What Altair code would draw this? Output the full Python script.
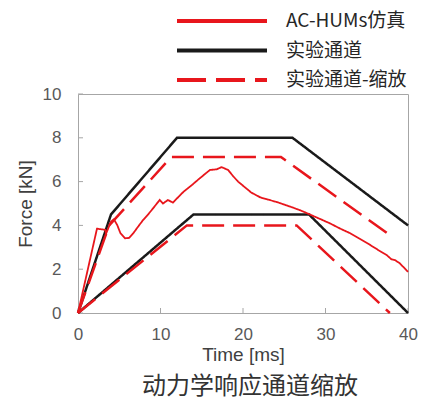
import altair as alt
import pandas as pd

# ---- data ----
series = ["AC-HUMs仿真", "实验通道", "实验通道-缩放"]

sim_t = [0, 2.3, 3.3, 3.4, 3.7, 4.0, 4.35, 4.75, 5.15, 5.7, 6.2, 6.7, 7.3, 7.9, 8.5, 9.1,
         9.9, 10.3, 10.9, 11.5, 12.2, 12.8, 13.8, 14.6, 15.4, 16.0, 16.8, 17.4, 18.2, 18.8,
         19.4, 20.2, 21.0, 22.1, 23.0, 24.0, 25.0, 26.0, 27.0, 28.1, 29.0, 30.5, 31.8, 33.0,
         34.2, 35.4, 36.5, 37.4, 38.0, 38.4, 39.0, 40.0]
sim_f = [0, 3.85, 3.8, 3.62, 3.9, 4.17, 4.28, 4.02, 3.64, 3.41, 3.43, 3.64, 3.95, 4.25, 4.5, 4.78,
         5.16, 5.0, 5.16, 5.04, 5.31, 5.54, 5.84, 6.1, 6.35, 6.53, 6.56, 6.66, 6.53, 6.25,
         6.0, 5.75, 5.5, 5.28, 5.18, 5.08, 4.95, 4.82, 4.68, 4.5, 4.35, 4.1, 3.85, 3.64,
         3.38, 3.11, 2.85, 2.65, 2.45, 2.42, 2.27, 1.88]

exp_up_t = [0, 4, 12, 26, 40]
exp_up_f = [0, 4.5, 8, 8, 4]
exp_lo_t = [0, 14, 28, 40]
exp_lo_f = [0, 4.5, 4.5, 0]

sc_up_t = [0, 3.78, 11.3, 24.6, 37.8]
sc_up_f = [0, 4.0, 7.12, 7.12, 3.56]
sc_lo_t = [0, 13.2, 26.5, 37.8]
sc_lo_f = [0, 4.0, 4.0, 0]

x_ticks = [0, 10, 20, 30, 40]
y_ticks = [0, 2, 4, 6, 8, 10]

# ---- styling ----
RED = "#e8161c"
BLACK = "#1a1a1a"
GRID = "#a6a6a6"
W, H = 330, 219
LATIN = "Liberation Sans"
CJK = "Noto Sans CJK SC"


def frame(ts, fs, name, line):
    return pd.DataFrame({"t": ts, "f": fs, "series": name, "line": line,
                         "i": list(range(len(ts)))})


df_exp = pd.concat([frame(exp_up_t, exp_up_f, series[1], "up"),
                    frame(exp_lo_t, exp_lo_f, series[1], "lo")])
df_sc = pd.concat([frame(sc_up_t, sc_up_f, series[2], "up"),
                   frame(sc_lo_t, sc_lo_f, series[2], "lo")])
df_sim = frame(sim_t, sim_f, series[0], "sim")

xs = alt.Scale(domain=[0, 40], nice=False, zero=False)
ys = alt.Scale(domain=[0, 10], nice=False, zero=False)
cscale = alt.Scale(domain=series, range=[RED, BLACK, RED])
dscale = alt.Scale(domain=series, range=[[1, 0], [1, 0], [22, 9]])

xaxis = alt.Axis(values=x_ticks, ticks=False, tickSize=0, domain=False, grid=False,
                 labelFlush=False, labelOverlap=False,
                 labelPadding=13, labelFontSize=17, labelColor="#595959", labelFont=LATIN,
                 title="Time [ms]", titleFontSize=19, titleFontWeight="normal",
                 titleColor="#404040", titleFont=LATIN, titlePadding=3)
yaxis = alt.Axis(values=y_ticks, ticks=False, tickSize=0, domain=False, grid=False,
                 labelFlush=False, labelOverlap=False,
                 labelPadding=17, labelFontSize=17, labelColor="#595959", labelFont=LATIN,
                 title="Force [kN]", titleFontSize=19, titleFontWeight="normal",
                 titleColor="#404040", titleFont=LATIN, titlePadding=7)


def line_layer(df, width):
    return alt.Chart(df).mark_line(strokeWidth=width).encode(
        x=alt.X("t:Q", scale=xs, axis=xaxis),
        y=alt.Y("f:Q", scale=ys, axis=yaxis),
        color=alt.Color("series:N", scale=cscale, legend=None),
        strokeDash=alt.StrokeDash("series:N", scale=dscale, legend=None),
        detail="line:N",
        order="i:Q",
    )


xt = alt.Chart(pd.DataFrame({"v": x_ticks})).mark_rule(color=GRID, strokeWidth=1).encode(
    x=alt.X("v:Q", scale=xs, axis=xaxis), y=alt.value(H), y2=alt.value(H - 5))
yt = alt.Chart(pd.DataFrame({"v": y_ticks})).mark_rule(color=GRID, strokeWidth=1).encode(
    y=alt.Y("v:Q", scale=ys, axis=yaxis), x=alt.value(0), x2=alt.value(5))

plot = alt.layer(xt, yt, line_layer(df_exp, 2.5), line_layer(df_sc, 2.5),
                 line_layer(df_sim, 1.8))

# ---- legend (above the plot) ----
df_leg = pd.DataFrame({"series": series, "row": [0, 1, 2]})
leg_y = alt.Y("row:Q", scale=alt.Scale(domain=[0, 2], range=[-73, -14], nice=False, zero=False),
              axis=None)
leg_lines = alt.Chart(df_leg).mark_rule(strokeWidth=4).encode(
    x=alt.value(99), x2=alt.value(189), y=leg_y,
    color=alt.Color("series:N", scale=cscale, legend=None),
    strokeDash=alt.StrokeDash("series:N",
                              scale=alt.Scale(domain=series, range=[[1, 0], [1, 0], [29, 10]]),
                              legend=None),
)
leg_text = alt.Chart(df_leg).mark_text(align="left", baseline="middle", fontSize=19,
                                       font=CJK, color="#262626").encode(
    x=alt.value(208), y=leg_y, text="series:N")
legend = alt.layer(leg_lines, leg_text)

chart = alt.layer(plot, legend).resolve_scale(y="independent", strokeDash="independent").properties(
    width=W, height=H,
    autosize=alt.AutoSizeParams(type="none"),
    padding={"left": 70, "top": 86, "right": 26, "bottom": 85},
    title=alt.TitleParams("动力学响应通道缩放", orient="bottom", anchor="middle", fontSize=24,
                          font=CJK, fontWeight="normal", color="#333333", offset=11, dx=7),
).configure_view(stroke=GRID, strokeWidth=1)

chart.save("out.html", embed_options={"renderer": "svg", "actions": False})
